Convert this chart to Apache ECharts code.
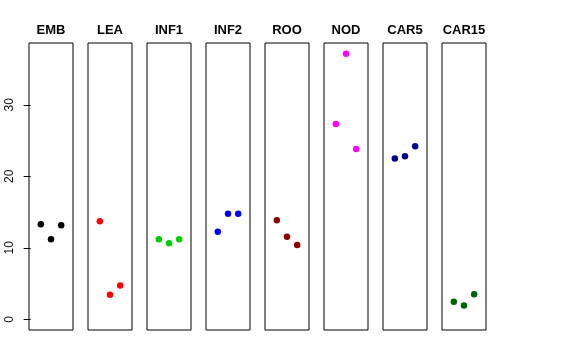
<!DOCTYPE html>
<html><head><meta charset="utf-8">
<script src="https://cdn.jsdelivr.net/npm/echarts@6/dist/echarts.min.js"></script>
<style>html,body{margin:0;padding:0;background:#fff}#c{width:576px;height:360px}</style>
</head><body><div id="c"></div>
<script>
const categories = ['EMB','LEA','INF1','INF2','ROO','NOD','CAR5','CAR15'];
const xPos = [1, 2, 3];
const EMB = [13.3, 11.2, 13.15];
const LEA = [13.7, 3.45, 4.75];
const INF1 = [11.2, 10.65, 11.2];
const INF2 = [12.25, 14.75, 14.75];
const ROO = [13.85, 11.55, 10.4];
const NOD = [27.3, 37.15, 23.8];
const CAR5 = [22.5, 22.8, 24.2];
const CAR15 = [2.45, 1.95, 3.5];
const seriesValues = [EMB, LEA, INF1, INF2, ROO, NOD, CAR5, CAR15];
const colors = ['#000000','#FF0000','#00CD00','#0000FF','#8B0000','#FF00FF','#00008B','#006400'];
const yTicks = [0, 10, 20, 30];

(function () {
const yMax = 37.15, yPad = yMax * 0.04;
const font = '"Liberation Sans", Arial, Helvetica, sans-serif';
const grids = [], xAxes = [], yAxes = [], series = [], texts = [];
const left0 = 29, step = 59, gw = 44, gTop = 43, gh = 287;
categories.forEach((cat, i) => {
  const gl = left0 + i * step;
  grids.push({left: gl, top: gTop, width: gw, height: gh, show: true, borderColor: '#000', borderWidth: 1, backgroundColor: 'transparent'});
  xAxes.push({type: 'value', gridIndex: i, min: -0.16, max: 4.16, show: false});
  yAxes.push({type: 'value', gridIndex: i, min: -yPad, max: yMax + yPad, show: i === 0,
    axisLine: {show: false}, splitLine: {show: false},
    axisTick: {show: true, length: 7, lineStyle: {color: '#000'}, customValues: yTicks},
    axisLabel: {show: true, rotate: 90, margin: 13, fontSize: 12, color: '#111', fontFamily: font, customValues: yTicks}
  });
  series.push({type: 'scatter', xAxisIndex: i, yAxisIndex: i, symbol: 'circle', symbolSize: 6.5,
    itemStyle: {color: colors[i], opacity: 1}, silent: true,
    data: seriesValues[i].map((v, j) => [xPos[j], v])});
  texts.push({type: 'text', left: 'auto', x: gl + gw / 2, y: 30.5, silent: true,
    style: {text: cat, align: 'center', verticalAlign: 'middle', fill: '#000',
      font: 'bold 13px ' + font}});
});
const chart = echarts.init(document.getElementById('c'), null, {renderer: 'canvas'});
chart.setOption({animation: false, grid: grids, xAxis: xAxes, yAxis: yAxes, series: series, graphic: texts});
})();
</script></body></html>
